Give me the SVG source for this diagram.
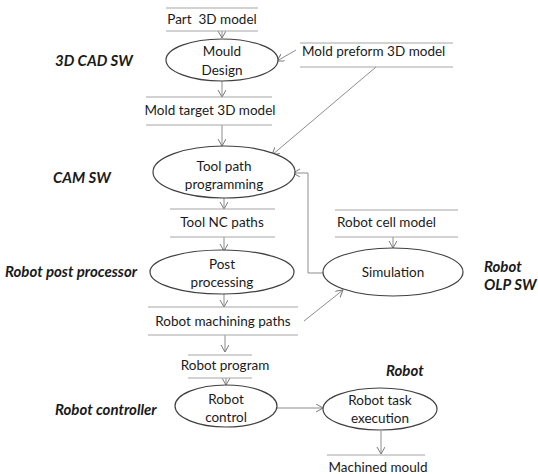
<svg xmlns="http://www.w3.org/2000/svg" width="538" height="474" viewBox="0 0 538 474">
<defs>
<style>
.t{font-family:Lato,"Liberation Sans",Arial,sans-serif;font-size:13.5px;fill:#1a1a1a;text-anchor:middle}
.ts{font-family:Lato,"Liberation Sans",Arial,sans-serif;font-size:13.5px;fill:#1a1a1a}
.lb{font-family:Lato,"Liberation Sans",Arial,sans-serif;font-size:15px;font-weight:bold;font-style:italic;fill:#1a1a1a}
.sep{stroke:#a6a6a6;stroke-width:1.2;fill:none}
.el{stroke:#404040;stroke-width:1.2;fill:#fff}
.c{stroke:#8c8c8c;stroke-width:1;fill:none;marker-end:url(#ah)}
</style>
<marker id="ah" markerUnits="userSpaceOnUse" markerWidth="10" markerHeight="10" refX="7" refY="4" orient="auto">
<path d="M0,0 L7,4 L0,8" fill="none" stroke="#7a7a7a" stroke-width="1"/>
</marker>
</defs>
<rect width="538" height="474" fill="#fff"/>

<g id="labels">
<text class="lb" x="55" y="66">3D CAD SW</text>
<text class="lb" x="53" y="183">CAM SW</text>
<text class="lb" x="5" y="277">Robot post processor</text>
<text class="lb" x="55" y="415">Robot controller</text>
<text class="lb" x="484" y="272">Robot</text>
<text class="lb" x="484" y="290">OLP SW</text>
<text class="lb" x="386" y="376">Robot</text>
</g>

<g id="connectors">
<line class="c" x1="222" y1="31" x2="222" y2="38"/>
<line class="c" x1="222" y1="81" x2="222" y2="97"/>
<line class="c" x1="296" y1="50" x2="277" y2="61"/>
<line class="c" x1="222" y1="125" x2="222" y2="146"/>
<line class="c" x1="376" y1="67" x2="272" y2="155"/>
<line class="c" x1="224" y1="197" x2="224" y2="209"/>
<line class="c" x1="224" y1="237" x2="224" y2="251"/>
<line class="c" x1="224" y1="294" x2="224" y2="307"/>
<polyline class="c" points="323,273 308,273 308,173 293,173"/>
<line class="c" x1="393" y1="237" x2="393" y2="248"/>
<line class="c" x1="304" y1="321" x2="343" y2="290"/>
<line class="c" x1="225" y1="335" x2="225" y2="352"/>
<line class="c" x1="226" y1="378" x2="226" y2="385"/>
<line class="c" x1="277" y1="408" x2="323" y2="408"/>
<line class="c" x1="381" y1="431" x2="381" y2="454"/>
</g>

<g id="part3d">
<line class="sep" x1="166" y1="8" x2="258" y2="8"/>
<line class="sep" x1="166" y1="31" x2="258" y2="31"/>
<text class="t" x="212" y="24" xml:space="preserve" style="white-space:pre">Part  3D model</text>
</g>

<g id="mould-design">
<ellipse class="el" cx="222" cy="60" rx="56" ry="21"/>
<text class="t" x="222" y="56">Mould</text>
<text class="t" x="222" y="75">Design</text>
</g>

<g id="mold-preform">
<line class="sep" x1="300" y1="43" x2="453" y2="43"/>
<line class="sep" x1="300" y1="67" x2="453" y2="67"/>
<text class="ts" x="302" y="56">Mold preform 3D model</text>
</g>

<g id="mold-target">
<line class="sep" x1="146" y1="97" x2="272" y2="97"/>
<line class="sep" x1="146" y1="125" x2="272" y2="125"/>
<text class="t" x="210" y="115">Mold target 3D model</text>
</g>

<g id="tool-path">
<ellipse class="el" cx="224" cy="172" rx="71" ry="26"/>
<text class="t" x="224" y="171">Tool path</text>
<text class="t" x="224" y="189">programming</text>
</g>

<g id="tool-nc">
<line class="sep" x1="170" y1="209" x2="275" y2="209"/>
<line class="sep" x1="170" y1="237" x2="275" y2="237"/>
<text class="t" x="222" y="227">Tool NC paths</text>
</g>

<g id="post-processing">
<ellipse class="el" cx="222" cy="272" rx="72" ry="22"/>
<text class="t" x="222" y="269">Post</text>
<text class="t" x="222" y="287">processing</text>
</g>

<g id="robot-cell">
<line class="sep" x1="335" y1="210" x2="458" y2="210"/>
<line class="sep" x1="335" y1="237" x2="458" y2="237"/>
<text class="ts" x="337" y="227">Robot cell model</text>
</g>

<g id="simulation">
<ellipse class="el" cx="393" cy="272" rx="70" ry="24"/>
<text class="t" x="393" y="277">Simulation</text>
</g>

<g id="machining-paths">
<line class="sep" x1="148" y1="307" x2="298" y2="307"/>
<line class="sep" x1="148" y1="335" x2="298" y2="335"/>
<text class="t" x="223" y="326">Robot machining paths</text>
</g>

<g id="robot-program">
<line class="sep" x1="188" y1="355" x2="252" y2="355"/>
<line class="sep" x1="188" y1="378" x2="252" y2="378"/>
<text class="t" x="225" y="370">Robot program</text>
</g>

<g id="robot-control">
<ellipse class="el" cx="226" cy="406" rx="51" ry="21"/>
<text class="t" x="226" y="404">Robot</text>
<text class="t" x="226" y="422">control</text>
</g>

<g id="robot-task">
<ellipse class="el" cx="380" cy="409" rx="57" ry="21"/>
<text class="t" x="380" y="405">Robot task</text>
<text class="t" x="380" y="423">execution</text>
</g>

<g id="machined-mould">
<line class="sep" x1="327" y1="455" x2="425" y2="455"/>
<text class="t" x="378" y="472">Machined mould</text>
</g>
</svg>
